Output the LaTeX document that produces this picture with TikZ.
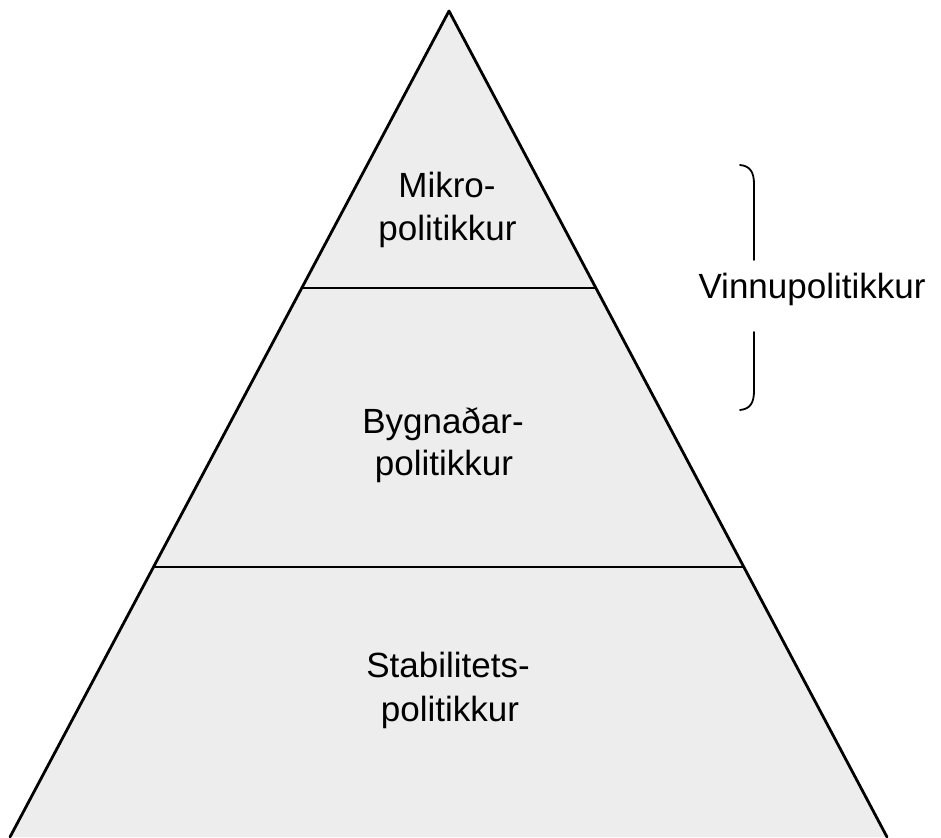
\documentclass[tikz,border=0pt]{standalone}
\usepackage{fontspec}
\setmainfont{Liberation Sans}
\usetikzlibrary{calc}
\tikzset{
  lbl/.style={anchor=base, inner sep=0pt, font=\fontsize{35}{42}\selectfont},
  edge/.style={line width=2.8pt, line cap=round, line join=round},
  tier/.style={line width=2.6pt},
  brace/.style={line width=1.8pt, line cap=round}
}
\begin{document}
\begin{tikzpicture}[x=1pt, y=-1pt]
\useasboundingbox (0,0) rectangle (941,837);
\coordinate (apex) at (449,11);
\coordinate (bl) at (10,837);
\coordinate (br) at (887,837);
\fill[black!7] (apex) -- (bl) -- (br) -- cycle;
\draw[edge] (bl) -- (apex) -- (br);
\coordinate (l1) at ($(apex)!0.3354!(bl)$);
\coordinate (r1) at ($(apex)!0.3354!(br)$);
\coordinate (l2) at ($(apex)!0.6731!(bl)$);
\coordinate (r2) at ($(apex)!0.6731!(br)$);
\draw[tier] (l1) -- (r1);
\draw[tier] (l2) -- (r2);
\node[lbl] (m1) at (447,197) {Mikro-};
\node[lbl] (m2) at (447.5,240) {politikkur};
\node[lbl] (b1) at (443,433) {Bygnaðar-};
\node[lbl] (b2) at (444,475) {politikkur};
\node[lbl] (s1) at (448,677) {Stabilitets-};
\node[lbl] (s2) at (450,721) {politikkur};
\node[lbl] (v) at (812,298) {Vinnupolitikkur};
\coordinate (bt) at (740,165);
\coordinate (bu) at (754,260);
\coordinate (bd) at (754,332);
\coordinate (bb) at (740,410);
\draw[brace] (bt) .. controls (750,166) and (754,172) .. (754,184) -- (bu);
\draw[brace] (bd) -- (754,391) .. controls (754,403) and (750,409) .. (bb);
\end{tikzpicture}
\end{document}
